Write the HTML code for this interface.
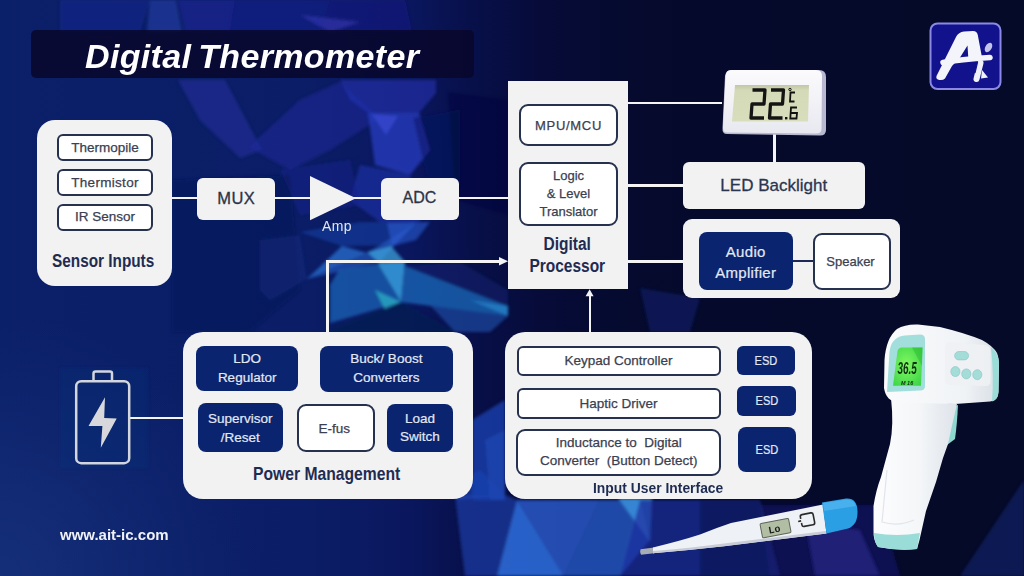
<!DOCTYPE html>
<html><head><meta charset="utf-8">
<style>
*{margin:0;padding:0;box-sizing:border-box}
html,body{width:1024px;height:576px;overflow:hidden;background:#08164f}
body{font-family:"Liberation Sans",sans-serif;position:relative}
#bg{position:absolute;left:0;top:0;width:1024px;height:576px}
.a{position:absolute}
.panel{position:absolute;background:#f2f2f2}
.bx{position:absolute;display:flex;align-items:center;justify-content:center;text-align:center;line-height:1.3}
.wb{background:#fff;border:2px solid #26314f;color:#3b4051;border-radius:6px;-webkit-text-stroke:0.25px #3b4051}
.nb{background:#0a2470;color:#e4e9f3;border-radius:8px;-webkit-text-stroke:0.2px #e4e9f3}
.lb{background:#f2f2f2;color:#2d3447;border-radius:6px;-webkit-text-stroke:0.3px #2d3447}
.hd{position:absolute;font-weight:bold;color:#1f2c52;white-space:nowrap;transform-origin:0 0}
.ln{position:absolute;background:#f4f4f4}
</style></head><body>
<svg id="bg" width="1024" height="576" viewBox="0 0 1024 576">
  <defs>
    <linearGradient id="g0" x1="0" y1="0" x2="1" y2="0">
      <stop offset="0" stop-color="#0a2068"/>
      <stop offset="0.3" stop-color="#0b1d66"/>
      <stop offset="0.4" stop-color="#0a175e"/>
      <stop offset="0.46" stop-color="#08104a"/>
      <stop offset="0.53" stop-color="#060b38"/>
      <stop offset="0.62" stop-color="#050a2e"/>
      <stop offset="1" stop-color="#050a28"/>
    </linearGradient>
    <radialGradient id="glow" cx="0" cy="576" r="260" gradientUnits="userSpaceOnUse">
      <stop offset="0" stop-color="#1a3580" stop-opacity="0.7"/><stop offset="1" stop-color="#1a3580" stop-opacity="0"/>
    </radialGradient>
    <filter id="bl" x="-5%" y="-5%" width="110%" height="110%"><feGaussianBlur stdDeviation="1.5"/></filter>
  </defs>
  <rect width="1024" height="576" fill="url(#g0)"/>
  <rect width="1024" height="576" fill="url(#glow)"/>
  <g filter="url(#bl)">
  <!-- top strip -->
  <polygon points="60,0 150,0 140,32 60,32" fill="#18288e" opacity="0.6"/>
  <polygon points="150,0 176,0 182,32 147,32" fill="#2a46b4" opacity="0.5"/>
  <polygon points="178,0 235,0 230,32 185,32" fill="#1c2492" opacity="0.7"/>
  <polygon points="235,0 330,0 320,32 230,32" fill="#15228a" opacity="0.6"/>
  <polygon points="330,0 405,0 412,32 320,32" fill="#1a1a8c" opacity="0.45"/>
  <polygon points="300,15 360,22 330,32" fill="#3a3ac0" opacity="0.5"/>
  <!-- under title violet -->
  <polygon points="178,80 225,80 262,150 240,158 200,120" fill="#2430a0" opacity="0.55"/>
  <polygon points="249,147 300,100 340,82 380,118 330,150 290,170" fill="#2028a0" opacity="0.5"/>
  <polygon points="340,80 436,80 436,93 419,113 368,113 350,100" fill="#2530b0" opacity="0.6"/>
  <polygon points="368,113 419,113 430,150 410,175 375,165" fill="#2a40c8" opacity="0.7"/>
  <polygon points="372,114 398,116 386,135" fill="#3a4ad4" opacity="0.7"/>
  <polygon points="413,118 460,110 460,185 430,190" fill="#0a1260" opacity="0.5"/>
  <polygon points="360,165 410,175 420,222 380,222 350,200" fill="#2236b4" opacity="0.55"/>
  <polygon points="280,170 350,160 360,205 300,215" fill="#18208e" opacity="0.5"/>
  <polygon points="448,92 508,100 508,215 455,200" fill="#050b3c" opacity="0.5"/>
  <polygon points="172,180 290,175 300,290 250,332 172,332" fill="#081656" opacity="0.45"/>
  <!-- middle cyan/blue facets -->
  <polygon points="300,232 360,222 416,222 395,245 342,246" fill="#1c48b0" opacity="0.5"/>
  <polygon points="307,279 342,246 367,253" fill="#2a70d0" opacity="0.75"/>
  <polygon points="307,279 367,253 416,223 395,245 380,262" fill="#2660c8" opacity="0.6"/>
  <polygon points="387,223 430,222 416,240 392,246" fill="#2a5ad0" opacity="0.6"/>
  <polygon points="367,252 391,246 405,262 380,264" fill="#40a8e0" opacity="0.7"/>
  <polygon points="378,264 405,262 401,302" fill="#35a0e0" opacity="0.85"/>
  <polygon points="339,270 378,264 401,302 330,323 330,285" fill="#1a5aaa" opacity="0.85"/>
  <polygon points="375,290 401,302 385,310" fill="#30c8d0" opacity="0.6"/>
  <polygon points="330,329 401,302 455,332 330,332" fill="#0a1a50" opacity="0.6"/>
  <polygon points="401,302 405,266 508,306 508,316" fill="#1a64b4" opacity="0.8"/>
  <polygon points="470,300 508,306 508,316" fill="#2486cc" opacity="0.7"/>
  <polygon points="430,305 508,316 490,332 455,332" fill="#1a4aa0" opacity="0.7"/>
  <polygon points="405,266 460,262 508,290 508,306" fill="#0e2270" opacity="0.5"/>
  <polygon points="260,240 300,235 307,279 270,300 260,290" fill="#102a80" opacity="0.45"/>
  <polygon points="640,288 700,298 690,332 650,332" fill="#0e1a6a" opacity="0.6"/>
  <!-- bottom facets -->
  <polygon points="455,495 505,495 517,500 497,576 465,576" fill="#1a3aa0" opacity="0.75"/>
  <polygon points="517,500 497,576 564,576" fill="#3070e0" opacity="0.85"/>
  <polygon points="517,500 600,500 564,576" fill="#2a5cd0" opacity="0.8"/>
  <polygon points="600,500 640,500 650,540 620,576 564,576" fill="#2a60d0" opacity="0.75"/>
  <polygon points="618,498 652,498 650,542" fill="#40a0e8" opacity="0.7"/>
  <polygon points="640,500 700,500 700,576 620,576" fill="#1e2ea0" opacity="0.7"/>
  <polygon points="700,500 760,500 780,576 700,576" fill="#1a2890" opacity="0.55"/>
  <polygon points="760,505 880,505 900,576 770,576" fill="#1c1c78" opacity="0.5"/>
  <polygon points="805,520 860,530 880,576 815,576" fill="#2a2a9c" opacity="0.5"/>
  <polygon points="473,420 505,400 505,500 473,500" fill="#1a3aa8" opacity="0.55"/>
  <polygon points="485,440 505,430 505,500 490,500" fill="#2a58c8" opacity="0.5"/>
  <polygon points="440,490 480,470 505,495 460,500" fill="#1e48b8" opacity="0.6"/>
  <polygon points="960,576 1024,480 1024,576" fill="#172c88" opacity="0.45"/>
  <polygon points="472,420 505,400 505,500 472,500" fill="#1a44b0" opacity="0.55"/>
  
  <rect x="60" y="368" width="88" height="100" fill="#14307e" opacity="0.22"/>
  </g>
</svg>

<!-- title -->
<div class="a" style="left:31px;top:30px;width:443px;height:48px;border-radius:5px;background:rgba(8,6,42,0.82)"></div>
<div class="a" style="left:85px;top:36.5px;font-size:34px;font-weight:bold;font-style:italic;color:#fff;letter-spacing:0.35px;word-spacing:-3px;white-space:nowrap;line-height:38px">Digital Thermometer</div>

<!-- Sensor inputs -->
<div class="panel" style="left:37px;top:120px;width:135px;height:166px;border-radius:18px"></div>
<div class="bx wb" style="left:57px;top:134px;width:96px;height:27px;font-size:13.5px">Thermopile</div>
<div class="bx wb" style="left:57px;top:169px;width:96px;height:27px;font-size:13.5px;letter-spacing:0.3px">Thermistor</div>
<div class="bx wb" style="left:57px;top:203.5px;width:96px;height:27px;font-size:13.5px">IR Sensor</div>
<div class="hd" style="left:51.5px;top:250.5px;font-size:18px;transform:scaleX(0.852)">Sensor Inputs</div>

<!-- signal chain lines -->
<div class="ln" style="left:172px;top:196.5px;width:336px;height:2.5px"></div>
<div class="bx lb" style="left:197px;top:177.5px;width:78px;height:42px;font-size:16.5px;letter-spacing:0.4px;padding-left:0.4px">MUX</div>
<svg class="a" style="left:305px;top:170px" width="60" height="60"><polygon points="5,6 5,50.3 51,28.2" fill="#f2f2f2"/></svg>
<div class="a" style="left:322px;top:218px;font-size:14px;letter-spacing:0.4px;color:#e2e6ee">Amp</div>
<div class="bx lb" style="left:380.5px;top:177.5px;width:78px;height:42px;font-size:16px">ADC</div>

<!-- Digital processor -->
<div class="panel" style="left:508.3px;top:81px;width:119.8px;height:208px"></div>
<div class="bx wb" style="left:519px;top:103.5px;width:99px;height:42.5px;font-size:13px;letter-spacing:0.7px;border-radius:9px;padding-top:2.5px">MPU/MCU</div>
<div class="bx wb" style="left:519px;top:161.5px;width:99px;height:64.5px;font-size:13px;border-radius:9px;line-height:17.8px">Logic<br>&amp; Level<br>Translator</div>
<div class="hd" style="left:529px;top:233px;font-size:18px;line-height:22px;text-align:center;width:89px;transform:scaleX(0.86)">Digital<br>Processor</div>

<!-- right side -->
<div class="ln" style="left:628px;top:101.5px;width:94px;height:2.5px"></div>
<div class="ln" style="left:628px;top:184px;width:55px;height:2.5px"></div>
<div class="ln" style="left:628px;top:260.3px;width:55px;height:2.5px"></div>
<div class="ln" style="left:773px;top:134px;width:2.5px;height:28px"></div>
<div class="bx lb" style="left:682.5px;top:161.7px;width:182.5px;height:47px;font-size:17px;color:#2a3654;padding-top:2px">LED Backlight</div>
<div class="panel" style="left:682.5px;top:219.4px;width:217.5px;height:79px;border-radius:9px"></div>
<div class="a" style="left:790px;top:260px;width:25px;height:2px;background:#1c2a55"></div>
<div class="bx nb" style="left:698.5px;top:232.2px;width:94.5px;height:57.5px;font-size:15px;letter-spacing:0.3px;line-height:21.2px;padding-top:2px">Audio<br>Amplifier</div>
<div class="bx wb" style="left:813px;top:232.8px;width:78px;height:57.5px;font-size:13px;border-radius:9px;padding-top:2px;padding-right:3px">Speaker</div>

<!-- arrows -->
<div class="ln" style="left:326px;top:260px;width:2.5px;height:73px"></div>
<div class="ln" style="left:326px;top:260px;width:176px;height:2.5px"></div>
<svg class="a" style="left:499px;top:255px" width="10" height="14"><polygon points="0,2 9,6.3 0,10.6" fill="#f4f4f4"/></svg>
<div class="ln" style="left:588.5px;top:294px;width:2.5px;height:39px"></div>
<svg class="a" style="left:584px;top:288px" width="12" height="10"><polygon points="1.6,8.2 5.6,1.2 9.6,8.2" fill="#f4f4f4"/></svg>

<!-- Power management -->
<div class="ln" style="left:130px;top:416.8px;width:54px;height:2.5px"></div>
<div class="panel" style="left:182.6px;top:332.2px;width:290px;height:167px;border-radius:20px"></div>
<div class="bx nb" style="left:196px;top:345.7px;width:102.3px;height:45.8px;font-size:13.5px;line-height:18.5px">LDO<br>Regulator</div>
<div class="bx nb" style="left:320.2px;top:346px;width:132.4px;height:45.7px;font-size:13.5px;line-height:18.5px">Buck/ Boost<br>Converters</div>
<div class="bx nb" style="left:197.6px;top:403px;width:85.5px;height:48.5px;font-size:13.5px;line-height:19px;padding-top:1px">Supervisor<br>/Reset</div>
<div class="bx wb" style="left:296.7px;top:404.2px;width:78px;height:48.3px;font-size:13.5px;border-radius:9px;padding-right:3px">E-fus</div>
<div class="bx nb" style="left:386.7px;top:403.5px;width:66.6px;height:48.5px;font-size:13.5px;line-height:18px">Load<br>Switch</div>
<div class="hd" style="left:253px;top:462.5px;font-size:18.5px;transform:scaleX(0.848)">Power Management</div>

<!-- battery -->
<svg class="a" style="left:70px;top:365px" width="70" height="105">
  <rect x="6.2" y="16.2" width="53" height="82" rx="5" fill="none" stroke="#d4d6de" stroke-width="2.5"/>
  <path d="M23.5,15 V8.5 Q23.5,6.5 25.5,6.5 H40 Q42,6.5 42,8.5 V15" fill="none" stroke="#d4d6de" stroke-width="2.5"/>
  <polygon points="35,32.3 34.2,53.1 46.7,53.6 30.8,82.8 32.4,60.9 18.5,60.9" fill="#d8d8dc"/>
</svg>

<!-- Input User Interface -->
<div class="panel" style="left:505px;top:332px;width:307.4px;height:167px;border-radius:20px"></div>
<div class="bx wb" style="left:516.5px;top:345.7px;width:204px;height:30.3px;font-size:13.5px">Keypad Controller</div>
<div class="bx wb" style="left:516.5px;top:387.7px;width:204px;height:31.7px;font-size:13.5px">Haptic Driver</div>
<div class="bx wb" style="left:516.3px;top:428.7px;width:205px;height:47.5px;font-size:13.5px;line-height:18px;border-radius:9px;white-space:pre">Inductance to  Digital
Converter  (Button Detect)</div>
<div class="bx nb" style="left:737px;top:346px;width:58px;height:28.7px;font-size:13.5px;border-radius:6px"><span style="display:inline-block;transform:scaleX(0.82)">ESD</span></div>
<div class="bx nb" style="left:737px;top:386px;width:59px;height:30.3px;font-size:13.5px;border-radius:6px"><span style="display:inline-block;transform:scaleX(0.82)">ESD</span></div>
<div class="bx nb" style="left:737.5px;top:427.2px;width:58.8px;height:45.3px;font-size:13.5px;"><span style="display:inline-block;transform:scaleX(0.82)">ESD</span></div>
<div class="hd" style="left:593px;top:479px;font-size:15.5px;transform:scaleX(0.895)">Input User Interface</div>

<!-- website -->
<div class="a" style="left:60px;top:525.5px;font-size:15px;font-weight:bold;color:#f0f2f8">www.ait-ic.com</div>


<!-- small LCD thermometer -->
<svg class="a" style="left:715px;top:64px" width="120" height="80" viewBox="715 64 120 80">
  <defs>
    <linearGradient id="tb" x1="0" y1="0" x2="0" y2="1">
      <stop offset="0" stop-color="#fbfbfd"/><stop offset="1" stop-color="#e8e8f0"/>
    </linearGradient>
    <linearGradient id="lcd" x1="0" y1="0" x2="0" y2="1">
      <stop offset="0" stop-color="#c2c7a6"/><stop offset="0.15" stop-color="#d4daB8"/><stop offset="1" stop-color="#d8ddbc"/>
    </linearGradient>
  </defs>
  <path d="M731,70 L819,70 Q826,70 826,77 L826,130 Q826,135.5 820,135.5 L727,134 Q722,134 722.5,128 L725,76 Q726,70 731,70 Z" fill="#b8b8d0"/>
  <path d="M731,70 L816,70 Q822,70 822,76 L821.5,129 Q821.5,133.5 816,133.5 L727,132.5 Q722.5,132.5 723,127 L725.5,76 Q726,70 731,70 Z" fill="url(#tb)"/>
  <polygon points="735,85 809,85 808,121.5 732,121.5" fill="url(#lcd)"/>
  <g fill="none" stroke="#141414" stroke-width="3.3" stroke-linejoin="round" stroke-linecap="butt">
    <path d="M752.5,90 L765,90 L764,104 L752,104 L751,118 L764,118"/>
    <path d="M771,90 L783.5,90 L782.5,104 L770.5,104 L769.5,118 L782.5,118"/>
  </g>
  <g fill="none" stroke="#111" stroke-width="1.8">
    <circle cx="790" cy="89.5" r="1.2" stroke-width="1"/>
    <path d="M795,92.5 L790.5,92.5 L790,101.5 L794.5,101.5"/>
    <path d="M797,107.5 L791,107.5 L790.3,118.5 L796.5,118.5 L797,113 L790.6,113"/>
  </g>
  <rect x="785" y="117" width="2.4" height="2.4" fill="#111"/>
</svg>

<!-- logo -->
<svg class="a" style="left:928px;top:21px" width="76" height="71" viewBox="928 21 76 71">
  <rect x="930.5" y="23.5" width="70" height="65.5" rx="7" fill="#12128c" stroke="#8a8ae6" stroke-width="2"/>
  <g fill="#f4f4fb">
    <path d="M936.5,76 L956,37 Q958.5,32 964,31.5 L973,31 Q977,31 977.8,35 L982,57.5 L968.3,58 L967.5,45.5 L959.7,58 L952,66 L945,78.5 Q943,80.5 939.5,80 Q935.5,79.5 936.5,76 Z"/>
  </g>
  <path d="M943,62.5 Q960,59.5 990,57.5" stroke="#f4f4fb" stroke-width="5.5" stroke-linecap="round" fill="none"/>
  <path d="M980.5,63 L976.5,79" stroke="#f0f0f8" stroke-width="6" stroke-linecap="round"/>
  <path d="M977.6,62 L975,73" stroke="#12128c" stroke-width="1.1"/>
  <polygon points="982,70 988,77.5 981,78.5" fill="#f0f0f8"/>
  <ellipse cx="988.5" cy="47.5" rx="3.2" ry="5.2" transform="rotate(30 988.5 47.5)" fill="#c4c4ea"/>
</svg>

<!-- gun thermometer -->
<svg class="a" style="left:860px;top:315px" width="150" height="240" viewBox="860 315 150 240">
  <defs>
    <linearGradient id="gw" x1="0" y1="0" x2="1" y2="0">
      <stop offset="0" stop-color="#fdfdfe"/><stop offset="0.55" stop-color="#f4f6f8"/><stop offset="1" stop-color="#dde3ea"/>
    </linearGradient>
    <linearGradient id="gh" x1="0" y1="0" x2="1" y2="0">
      <stop offset="0" stop-color="#fafbfc"/><stop offset="0.7" stop-color="#f0f3f6"/><stop offset="1" stop-color="#d8dee5"/>
    </linearGradient>
    <radialGradient id="gl" cx="0.45" cy="0.45" r="0.7">
      <stop offset="0" stop-color="#80f860"/><stop offset="1" stop-color="#3cd448"/>
    </radialGradient>
  </defs>
  <!-- trigger -->
  <path d="M949,408 L958,405 Q957,425 955,439 L947,445 Z" fill="#8fd8d2"/>
  <!-- handle -->
  <path d="M891,398 L957,404 Q952,425 948,444 L943,458 L936,482 L926,511 L919.5,540 L917,549 Q898,551 878,547 Q873,540 873.5,530 L873.5,506 Q876,490 881,477 L890,444 Q894,425 891,398 Z" fill="url(#gw)"/>
  <path d="M874,533 Q897,537 920,533 L917,549 Q898,551 878,547 Q874,542 874,533 Z" fill="#9adcd8"/>
  <path d="M887,470 Q884,500 882,522 Q898,527 914,520" fill="none" stroke="#e0e5eb" stroke-width="1.2"/>
  <!-- head -->
  <path d="M884,388 L884.5,360 Q886,338 897,329 Q905,324 918,324.5 L940,327 Q965,333 982,340 Q993,346 997,353 Q999,358 999,366 L998.5,392 Q998,401 990,401.5 L955,404 L898,402.5 Q886,401 884,388 Z" fill="url(#gh)"/>
  <path d="M991,347 Q998,353 999,362 L998.5,392 Q998,400 992,401.5 Q994,378 991,347 Z" fill="#9adcd8"/>
  <!-- screen -->
  <path d="M887,392 L889.5,352 Q891,337 905,335.5 L920,334.5 Q925,334.5 925,339 L925,386 Q925,390.5 920,390.5 Z" fill="#a2dedb"/>
  <path d="M893,385.7 L897.5,351 Q898.5,347.4 902,347.4 L922.5,347.4 L921,385.7 Z" fill="url(#gl)"/>
  <path d="M912,347.4 L922.5,347.4 L922,366 Z" fill="#2ab830" opacity="0.5"/>
  <g fill="#0e3010" font-family="Liberation Sans" font-weight="bold" font-style="italic">
    <text x="0" y="0" font-size="16" transform="translate(897.5 373.5) scale(0.62 1)">36.5</text>
    <text x="0" y="0" font-size="5.5" transform="translate(901 385)">M  16</text>
  </g>
  <!-- buttons panel -->
  <path d="M950,342 Q945,342 945,348 L945,379 Q945,385 951,385 L986,386 Q990.5,386 990.5,381 L990.5,352 Q990.5,346 985,345 Z" fill="#eef1f4" opacity="0.9"/>
  <rect x="954.6" y="351.5" width="14" height="8.4" rx="4.2" fill="#a4dcd8" stroke="#88c4c2" stroke-width="0.6"/>
  <ellipse cx="955.4" cy="371.6" rx="4.6" ry="5" fill="#a4dcd8" stroke="#88c4c2" stroke-width="0.6"/>
  <ellipse cx="966.3" cy="373.9" rx="4.6" ry="5" fill="#a4dcd8" stroke="#88c4c2" stroke-width="0.6"/>
  <ellipse cx="977.3" cy="374.7" rx="4.6" ry="5" fill="#a4dcd8" stroke="#88c4c2" stroke-width="0.6"/>
</svg>

<!-- stick thermometer -->
<svg class="a" style="left:630px;top:490px" width="240" height="75" viewBox="630 490 240 75">
  <path d="M640.5,549.2 L654,547.4 L654,553.3 L641,554.8 Q639.5,552 640.5,549.2 Z" fill="#a8acb4"/>
  <path d="M653,547.4 Q680,541 700,534.5 Q716,528 731,523 L823,504.5 L826.5,533.5 L724,546.2 Q690,550 653,553.3 Z" fill="#eef1f5"/>
  <path d="M653,551 Q690,548 724,543.5 L826,531 L826.5,533.5 L724,546.2 Q690,550 653,553.3 Z" fill="#c8ccd6"/>
  <path d="M822,502.5 L846,498.5 Q857,497.5 857.5,511 Q858,525 848,528.5 L826.5,533.5 Z" fill="#2a9fe3"/>
  <path d="M823,503 L846,499.5 Q854,499 856,506 L824,511 Z" fill="#55b8f0" opacity="0.7"/>
  <g transform="rotate(-11 775 528)">
    <rect x="761" y="521" width="29" height="14.5" rx="1.2" fill="#b2bea4" stroke="#5d6458" stroke-width="1"/>
    <text x="768" y="532.5" font-family="Liberation Mono" font-size="10" font-weight="bold" fill="#1a1a1a">Lo</text>
    <path d="M802,524 L802,522 Q802,520 804,520 L813,520 Q815,520 815,522 L815,530 Q815,532 813,532 L804,532 Q802,532 802,530 L802,528 M799,526 L802,526" fill="none" stroke="#2b2b2b" stroke-width="1.6"/>
  </g>
</svg>

</body></html>
